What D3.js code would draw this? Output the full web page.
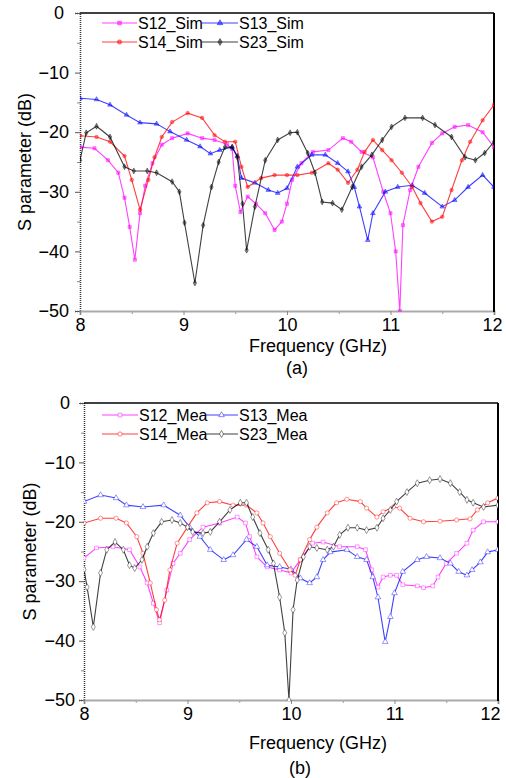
<!DOCTYPE html>
<html>
<head>
<meta charset="utf-8">
<script src="https://cdn.jsdelivr.net/npm/d3@7"></script>
<style>
  body { margin: 0; background: #fff; }
  svg { display: block; font-family: "Liberation Sans", Arial, sans-serif; }
</style>
</head>
<body>
<svg width="506" height="778"></svg>
<script>
// ---- data (frequency GHz, S parameter dB) ----
var xTicks = [8, 9, 10, 11, 12];
var yTicks = [0, -10, -20, -30, -40, -50];

var s12Sim = [[8.0,-22.5],[8.14,-22.7],[8.27,-24.7],[8.37,-26.8],[8.43,-31],[8.48,-35.9],[8.53,-41.4],[8.58,-33.6],[8.63,-29],[8.7,-25.2],[8.79,-22.1],[8.89,-21],[9.04,-20.2],[9.18,-21],[9.3,-21.3],[9.42,-22],[9.47,-22.8],[9.5,-29],[9.55,-33.4],[9.62,-30.8],[9.7,-32],[9.79,-33.6],[9.88,-36.4],[9.95,-35],[10.0,-32],[10.05,-28],[10.14,-25.2],[10.25,-23.3],[10.4,-23],[10.54,-21],[10.62,-21.6],[10.72,-23.3],[10.83,-24.2],[10.93,-30],[11.0,-33.6],[11.05,-40],[11.09,-50],[11.12,-35.6],[11.19,-29.7],[11.27,-25.8],[11.4,-21.8],[11.5,-20.2],[11.62,-19.1],[11.75,-18.8],[11.89,-20],[12.0,-22.5]];
var s13Sim = [[8.0,-14.3],[8.16,-14.5],[8.29,-15.4],[8.45,-17.1],[8.58,-18.4],[8.74,-18.6],[8.87,-19.9],[9.03,-21.3],[9.16,-22.4],[9.26,-23.6],[9.35,-23],[9.47,-22.5],[9.52,-24],[9.56,-27.7],[9.69,-28.5],[9.82,-29.7],[9.91,-30.2],[10.0,-29.4],[10.1,-25.8],[10.24,-23.8],[10.37,-23.8],[10.49,-25.2],[10.59,-26.6],[10.65,-29.2],[10.7,-32.5],[10.78,-38.1],[10.83,-33.6],[10.95,-30],[11.07,-29.2],[11.21,-28.9],[11.33,-30.2],[11.5,-32.5],[11.62,-31.4],[11.75,-29.2],[11.89,-27.2],[12.0,-29.2]];
var s14Sim = [[8.0,-20.6],[8.16,-20.8],[8.29,-21.6],[8.43,-24],[8.5,-28],[8.58,-33],[8.66,-28],[8.72,-24.2],[8.79,-20.8],[8.89,-18.3],[9.04,-16.8],[9.18,-17.6],[9.3,-20.5],[9.4,-21.6],[9.5,-21.6],[9.56,-25.8],[9.62,-29.2],[9.75,-27.7],[9.88,-27.2],[10.0,-27.2],[10.1,-27.2],[10.24,-26.8],[10.4,-25.2],[10.49,-26.3],[10.59,-28.5],[10.68,-26.3],[10.75,-23.3],[10.83,-21.3],[10.92,-23],[11.01,-24.7],[11.11,-26.8],[11.21,-29.2],[11.29,-31.9],[11.4,-35],[11.5,-34.2],[11.59,-29.7],[11.69,-24.7],[11.77,-21.6],[11.89,-18],[12.0,-15.4]];
var s23Sim = [[8.0,-24.7],[8.06,-20.1],[8.16,-19],[8.29,-20.8],[8.43,-25.8],[8.52,-26.5],[8.65,-26.5],[8.74,-26.8],[8.89,-28.3],[8.96,-30],[9.01,-35.2],[9.11,-45.3],[9.19,-35.6],[9.27,-29.2],[9.34,-25],[9.4,-22.5],[9.47,-22.5],[9.52,-24.2],[9.57,-32],[9.61,-39.8],[9.69,-32.5],[9.79,-24.7],[9.91,-21.3],[10.03,-20.1],[10.1,-20],[10.2,-23.5],[10.27,-26.8],[10.34,-31.7],[10.44,-31.9],[10.53,-33],[10.63,-29.2],[10.72,-25.8],[10.82,-23.8],[10.92,-21.3],[11.01,-19.1],[11.14,-17.6],[11.31,-17.6],[11.43,-18.8],[11.59,-20.8],[11.72,-24.2],[11.82,-24.7],[11.91,-23.5],[12.0,-21.6]];

var s12Mea = [[8.0,-26.1],[8.12,-24.4],[8.28,-24.2],[8.44,-24.7],[8.54,-27.6],[8.61,-30.3],[8.67,-33.7],[8.73,-37],[8.8,-31.5],[8.86,-27],[8.93,-25.3],[9.02,-23],[9.15,-20.9],[9.31,-20.2],[9.48,-19.2],[9.56,-20.2],[9.6,-22.5],[9.67,-25.9],[9.77,-27.6],[9.89,-28.1],[10.0,-28.6],[10.09,-26.4],[10.21,-23.6],[10.31,-23.4],[10.47,-24.2],[10.64,-24.2],[10.72,-24.7],[10.78,-28.1],[10.84,-31],[10.89,-29.3],[10.96,-29],[11.02,-29],[11.08,-30.6],[11.22,-30.8],[11.28,-31.1],[11.37,-30.8],[11.42,-29.3],[11.5,-27],[11.6,-25.3],[11.7,-23.6],[11.76,-21.4],[11.86,-20],[12.0,-20]];
var s13Mea = [[8.0,-16.6],[8.16,-15.5],[8.31,-16],[8.41,-17.2],[8.57,-17.5],[8.77,-17.2],[8.93,-18.9],[9.02,-20.9],[9.12,-22.5],[9.22,-24.7],[9.35,-26.4],[9.44,-25.6],[9.57,-23],[9.67,-24.2],[9.77,-27.3],[9.89,-27.6],[10.0,-28],[10.09,-29.5],[10.18,-30.3],[10.25,-29.3],[10.31,-26.4],[10.38,-25.1],[10.54,-24.7],[10.64,-25.9],[10.73,-26.4],[10.79,-29.3],[10.84,-32.7],[10.91,-40.2],[10.96,-36],[11.0,-32],[11.08,-28.4],[11.22,-26.4],[11.31,-25.9],[11.44,-26.1],[11.54,-27],[11.62,-28.4],[11.7,-29],[11.75,-28.1],[11.83,-26.8],[11.9,-25.1],[12.0,-24.7]];
var s14Mea = [[8.0,-20.2],[8.16,-19.4],[8.31,-19.4],[8.41,-20.2],[8.51,-22.5],[8.57,-25.3],[8.64,-30.3],[8.7,-34.8],[8.73,-36.5],[8.78,-33.2],[8.83,-28.1],[8.9,-23.6],[9.0,-20.9],[9.09,-18.5],[9.19,-16.8],[9.31,-16.6],[9.44,-17.2],[9.57,-17.2],[9.67,-18.5],[9.73,-20.2],[9.8,-22.5],[9.89,-25.3],[9.99,-28.1],[10.04,-29],[10.09,-26.4],[10.18,-23],[10.25,-20.9],[10.35,-18.5],[10.44,-16.8],[10.54,-16.2],[10.67,-16.6],[10.73,-17.7],[10.83,-19.2],[10.89,-18.3],[10.99,-17.5],[11.05,-17.7],[11.15,-19.4],[11.28,-20],[11.44,-19.9],[11.6,-19.7],[11.73,-19.5],[11.8,-18],[11.9,-16.8],[12.0,-16]];
var s23Mea = [[8.0,-28],[8.03,-31],[8.09,-37.7],[8.16,-28.6],[8.22,-24.7],[8.3,-23.4],[8.38,-24.7],[8.44,-27.3],[8.49,-27.8],[8.56,-26.4],[8.61,-24.2],[8.67,-21.9],[8.75,-20],[8.85,-19.7],[8.93,-20.2],[9.0,-20.9],[9.05,-21.7],[9.15,-21.9],[9.22,-21.7],[9.31,-20],[9.41,-18],[9.51,-16.8],[9.57,-16.8],[9.63,-19.2],[9.7,-21.9],[9.78,-24.7],[9.83,-27],[9.89,-32.7],[9.94,-38.7],[9.98,-50],[10.02,-34.8],[10.06,-29.8],[10.12,-25.9],[10.18,-24.2],[10.25,-24.4],[10.35,-24.7],[10.41,-24.2],[10.47,-22.2],[10.55,-21],[10.64,-21],[10.73,-21.4],[10.83,-21],[10.89,-19.4],[10.96,-18],[11.02,-16.6],[11.12,-15],[11.22,-13.5],[11.34,-13],[11.44,-12.8],[11.54,-13.5],[11.63,-15],[11.7,-16.3],[11.76,-16.8],[11.86,-17.5],[12.0,-17.2]];

var colors = ["#ff00ff", "#0000ff", "#ff0000", "#000000"];
var symbols = [d3.symbolSquare, d3.symbolTriangle, d3.symbolCircle, d3.symbolDiamond];

var svg = d3.select("svg");

function drawPanel(p) {
  var g = svg.append("g");
  var x = d3.scaleLinear().domain([8, 12]).range([p.x0, p.x1]);
  var y = d3.scaleLinear().domain([-50, 0]).range([p.y1, p.y0]);

  // minor ticks on left axis
  g.append("g")
      .attr("transform", "translate(" + p.x0 + ",0)")
      .call(d3.axisLeft(y).tickValues(d3.range(-45, 0, 10)).tickSize(3).tickFormat(""))
      .call(function(a) { a.select(".domain").remove(); a.selectAll("line").attr("stroke", "#888"); });
  var ya = g.append("g")
      .attr("transform", "translate(" + p.x0 + ",0)")
      .call(d3.axisLeft(y).tickValues(yTicks).tickSize(5).tickPadding(p.yPad));
  ya.select(".domain").attr("stroke", "#333").attr("stroke-width", 1.5).attr("stroke-dasharray", "1,1");
  ya.selectAll("line").attr("stroke", "#555");
  ya.selectAll("text").attr("font-size", 18).attr("fill", "#000").attr("font-family", null)
      .attr("dx", function(d) { return d === 0 ? -5 : 0; });

  // bottom axis
  g.append("g")
      .attr("transform", "translate(0," + p.y1 + ")")
      .call(d3.axisBottom(x).tickValues(d3.range(8.5, 12, 1)).tickSize(3).tickFormat(""))
      .call(function(a) { a.select(".domain").remove(); a.selectAll("line").attr("stroke", "#999"); });
  var xa = g.append("g")
      .attr("transform", "translate(0," + p.y1 + ")")
      .call(d3.axisBottom(x).tickValues(xTicks).tickSize(4).tickPadding(3).tickFormat(d3.format("d")));
  xa.select(".domain").attr("stroke", "#aaa").attr("stroke-width", 2);
  xa.selectAll("line").attr("stroke", "#888");
  xa.selectAll("text").attr("font-size", 18).attr("fill", "#000").attr("font-family", null)
      .attr("dx", function(d) { return d === 12 ? p.lastDx : 0; });

  // top and right frame
  g.append("line").attr("x1", p.x0).attr("x2", p.x1).attr("y1", p.y0).attr("y2", p.y0)
      .attr("stroke", "#000").attr("stroke-width", 1.5);
  g.append("line").attr("x1", p.x1).attr("x2", p.x1).attr("y1", p.y0).attr("y2", p.y1 + 1)
      .attr("stroke", "#000").attr("stroke-width", 2);

  var clipId = "clip" + p.id;
  svg.append("clipPath").attr("id", clipId).append("rect")
      .attr("x", p.x0).attr("y", p.y0 - 1).attr("width", p.x1 - p.x0).attr("height", p.y1 - p.y0 + 2);

  var line = d3.line().x(function(d) { return x(d[0]); }).y(function(d) { return y(d[1]); });
  var plot = g.append("g").attr("clip-path", "url(#" + clipId + ")");

  p.series.forEach(function(s, i) {
    plot.append("path").datum(s)
        .attr("d", line)
        .attr("fill", "none")
        .attr("stroke", colors[i])
        .attr("stroke-opacity", 0.75)
        .attr("stroke-width", 1.1);
    plot.selectAll(".m" + i).data(s).enter().append("path")
        .attr("transform", function(d) { return "translate(" + x(d[0]) + "," + y(d[1]) + ")"; })
        .attr("d", d3.symbol().type(symbols[i]).size(p.open ? 14 : 10))
        .attr("fill", p.open ? "#fff" : colors[i])
        .attr("fill-opacity", p.open ? 1 : 0.45)
        .attr("stroke", colors[i])
        .attr("stroke-opacity", 0.5)
        .attr("stroke-width", 0.8);
  });

  // legend
  p.names.forEach(function(name, i) {
    var lx = p.legX[i % 2], ly = p.legY[Math.floor(i / 2)];
    g.append("line").attr("x1", lx[0]).attr("x2", lx[1]).attr("y1", ly).attr("y2", ly)
        .attr("stroke", colors[i]).attr("stroke-width", 1.1).attr("stroke-opacity", 0.75);
    g.append("path")
        .attr("transform", "translate(" + ((lx[0] + lx[1]) / 2) + "," + ly + ")")
        .attr("d", d3.symbol().type(symbols[i]).size(14))
        .attr("fill", p.open ? "#fff" : colors[i])
        .attr("fill-opacity", p.open ? 1 : 0.5)
        .attr("stroke", colors[i]).attr("stroke-opacity", 0.6).attr("stroke-width", 0.8);
    g.append("text").attr("x", lx[1] + 1).attr("y", ly).attr("dy", "0.36em")
        .attr("font-size", 16).text(name);
  });

  // titles
  g.append("text")
      .attr("transform", "translate(" + p.ytitleX + "," + ((p.y0 + p.y1) / 2) + ") rotate(-90)")
      .attr("text-anchor", "middle").attr("dy", "0.35em").attr("font-size", 18)
      .text("S parameter (dB)");
  g.append("text").attr("x", 318).attr("y", p.titleY).attr("dy", "0.35em")
      .attr("text-anchor", "middle").attr("font-size", 18).text("Frequency (GHz)");
  g.append("text").attr("x", p.captionX).attr("y", p.captionY).attr("dy", "0.35em")
      .attr("text-anchor", "middle").attr("font-size", 18).text(p.caption);
}

drawPanel({
  id: "a", x0: 80, x1: 494, y0: 13, y1: 311,
  series: [s12Sim, s13Sim, s14Sim, s23Sim],
  names: ["S12_Sim", "S13_Sim", "S14_Sim", "S23_Sim"],
  open: false, yPad: 6, lastDx: -2,
  legX: [[102, 137], [202, 238]], legY: [23, 42],
  ytitleX: 25, titleY: 346, captionX: 297, captionY: 368, caption: "(a)"
});

drawPanel({
  id: "b", x0: 84, x1: 498, y0: 403, y1: 700,
  series: [s12Mea, s13Mea, s14Mea, s23Mea],
  names: ["S12_Mea", "S13_Mea", "S14_Mea", "S23_Mea"],
  open: true, yPad: 4, lastDx: -8,
  legX: [[102, 138], [205, 238]], legY: [415, 434],
  ytitleX: 30, titleY: 743, captionX: 300, captionY: 768, caption: "(b)"
});
</script>
</body>
</html>
